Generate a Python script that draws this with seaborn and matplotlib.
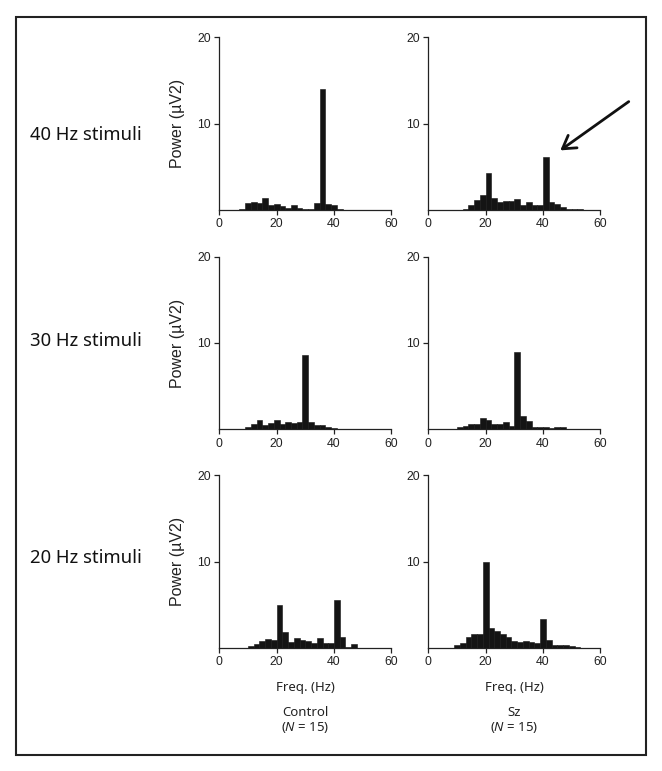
import numpy as np
import pandas as pd
import matplotlib
matplotlib.use("Agg")
import matplotlib.pyplot as plt
from matplotlib.patches import Rectangle
import seaborn as sns

# Power spectra (bin centres in Hz, power in uV2)
ctrl40_freq = [8, 10, 12, 14, 16, 18, 20, 22, 24, 26, 28, 30, 32, 34, 36, 38, 40, 42]
ctrl40_pow = [0.1, 0.75, 0.9, 0.8, 1.4, 0.55, 0.65, 0.4, 0.2, 0.5, 0.2, 0.1, 0.1, 0.75, 14.0, 0.7, 0.5, 0.1]

sz40_freq = [13, 15, 17, 19, 21, 23, 25, 27, 29, 31, 33, 35, 37, 39, 41, 43, 45, 47, 49, 51, 53]
sz40_pow = [0.15, 0.6, 1.1, 1.7, 4.3, 1.4, 0.9, 1.0, 1.0, 1.3, 0.6, 0.9, 0.5, 0.6, 6.1, 0.9, 0.7, 0.3, 0.1, 0.1, 0.1]

ctrl30_freq = [10, 12, 14, 16, 18, 20, 22, 24, 26, 28, 30, 32, 34, 36, 38, 40]
ctrl30_pow = [0.2, 0.6, 1.05, 0.5, 0.7, 1.05, 0.6, 0.8, 0.7, 0.8, 8.6, 0.8, 0.5, 0.5, 0.25, 0.1]

sz30_freq = [11, 13, 15, 17, 19, 21, 23, 25, 27, 29, 31, 33, 35, 37, 39, 41, 43, 45, 47]
sz30_pow = [0.2, 0.4, 0.55, 0.6, 1.25, 1.05, 0.6, 0.6, 0.85, 0.4, 8.9, 1.55, 0.9, 0.3, 0.2, 0.2, 0.15, 0.25, 0.25]

ctrl20_freq = [11, 13, 15, 17, 19, 21, 23, 25, 27, 29, 31, 33, 35, 37, 39, 41, 43, 45, 47]
ctrl20_pow = [0.25, 0.45, 0.8, 1.05, 0.95, 5.0, 1.85, 0.65, 1.1, 0.9, 0.8, 0.5, 1.15, 0.5, 0.6, 5.6, 1.3, 0.15, 0.4]

sz20_freq = [10, 12, 14, 16, 18, 20, 22, 24, 26, 28, 30, 32, 34, 36, 38, 40, 42, 44, 46, 48, 50, 52]
sz20_pow = [0.3, 0.5, 1.25, 1.65, 1.55, 10.0, 2.3, 1.9, 1.6, 1.2, 0.8, 0.65, 0.75, 0.65, 0.5, 3.35, 0.95, 0.35, 0.35, 0.3, 0.2, 0.1]

stimuli = ["40 Hz stimuli", "30 Hz stimuli", "20 Hz stimuli"]
groups = ["Control", "Sz"]
group_n = [15, 15]

panels = [
    [(ctrl40_freq, ctrl40_pow), (sz40_freq, sz40_pow)],
    [(ctrl30_freq, ctrl30_pow), (sz30_freq, sz30_pow)],
    [(ctrl20_freq, ctrl20_pow), (sz20_freq, sz20_pow)],
]

sns.set_style("ticks")
plt.rcParams["font.family"] = ["Liberation Sans", "DejaVu Sans"]
plt.rcParams["mathtext.fontset"] = "custom"
plt.rcParams["mathtext.rm"] = "Noto Sans"
plt.rcParams["mathtext.it"] = "Noto Sans:italic"

W, H = 662, 771
fig = plt.figure(figsize=(W / 100, H / 100), dpi=100)
fig.patch.set_facecolor("white")

# axes boxes in pixels
col_left = [219.3, 428.3]
col_width = 172.0
row_top = [37.3, 256.7, 475.3]
row_height = 172.5

bar_color = "#141414"
label_font = ["Noto Sans", "DejaVu Sans"]

for r in range(3):
    for c in range(2):
        freq, power = panels[r][c]
        df = pd.DataFrame({"freq": freq, "power": power})
        # bin edges one Hz either side of each centre
        edges = [f - 1 for f in freq] + [freq[-1] + 1]
        ax = fig.add_axes([col_left[c] / W, 1 - (row_top[r] + row_height) / H,
                           col_width / W, row_height / H])
        sns.histplot(data=df, x="freq", weights="power", bins=edges, color=bar_color,
                     alpha=1, linewidth=0.4, edgecolor=bar_color, ax=ax)
        ax.set_xlim(0, 60)
        ax.set_ylim(0, 20)
        ax.set_xticks([0, 20, 40, 60])
        ax.set_yticks([10, 20])
        ax.tick_params(length=3.5, width=0.9, color="#222222", labelsize=8.8,
                       labelcolor="#222222", pad=2.5)
        for s in ["left", "bottom"]:
            ax.spines[s].set_linewidth(0.9)
            ax.spines[s].set_color("#222222")
        sns.despine(ax=ax)
        ax.set_xlabel("")
        if c == 0:
            ax.set_ylabel("Power (µV2)", fontsize=11.5, color="#222222")
            ax.yaxis.set_label_coords(-0.2, 0.5)
        else:
            ax.set_ylabel("")
        if r == 2:
            ax.set_xlabel("Freq. (Hz)", fontsize=9.5, family=label_font,
                          color="#222222", labelpad=9)
            ax.text(0.5, -0.42, groups[c] + "\n" + r"($\mathit{N}$ = %d)" % group_n[c],
                    transform=ax.transAxes, ha="center", va="center",
                    fontsize=9.5, family=label_font, color="#222222",
                    linespacing=1.05)
        if r == 0 and c == 1:
            ax.annotate("", xy=(558 / W, 1 - 152 / H), xytext=(631 / W, 1 - 100 / H),
                        xycoords="figure fraction", textcoords="figure fraction",
                        annotation_clip=False,
                        arrowprops=dict(arrowstyle="->, head_length=0.9, head_width=0.55",
                                        lw=2, color="#111111"))

# row labels
row_label_y = [135, 341, 558]
for lab, y in zip(stimuli, row_label_y):
    fig.text(30 / W, 1 - y / H, lab, ha="left", va="center", fontsize=13.3,
             family=label_font, color="#111111")

# frame around the figure
fig.patches.append(Rectangle((16 / W, 1 - 755 / H), 630 / W, 738 / H,
                             transform=fig.transFigure, fill=False,
                             lw=1.5, edgecolor="#222222"))

fig.savefig("out.png", dpi=100)
